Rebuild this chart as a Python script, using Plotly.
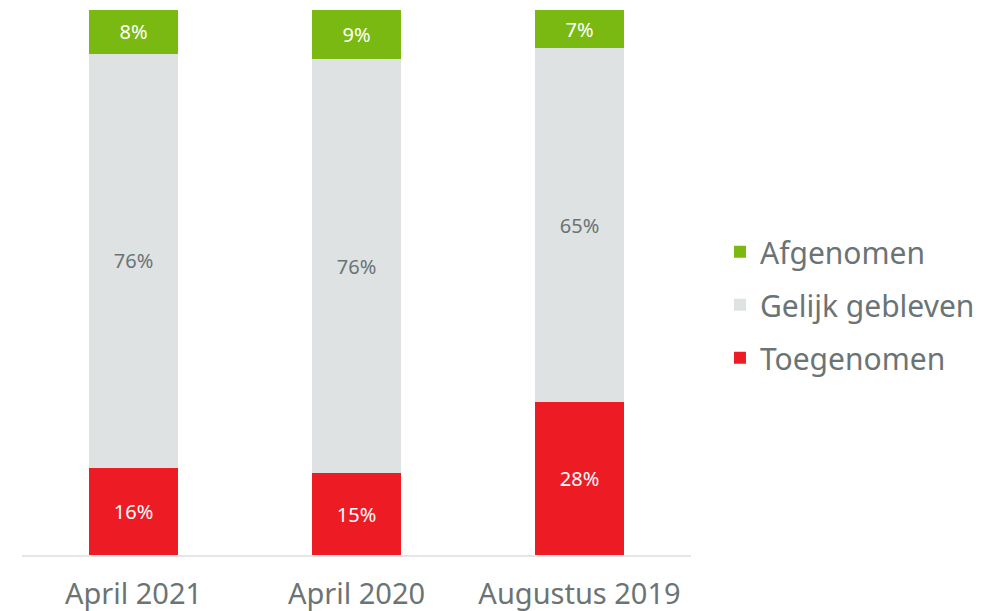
import plotly.graph_objects as go

categories = ["April 2021", "April 2020", "Augustus 2019"]
toegenomen = [16, 15, 28]
gelijk = [76, 76, 65]
afgenomen = [8, 9, 7]

series = [
    ("Toegenomen", toegenomen, "#ED1C24", "#FFFFFF", 3),
    ("Gelijk gebleven", gelijk, "#DEE2E3", "#6B7475", 2),
    ("Afgenomen", afgenomen, "#7AB911", "#FFFFFF", 1),
]

FONT = "Noto Sans"

fig = go.Figure()
for name, vals, col, tcol, rank in series:
    fig.add_trace(go.Bar(
        x=categories, y=vals, name=name,
        marker=dict(color=col, line=dict(width=0)),
        text=[f"{v}%" for v in vals],
        textposition="inside", insidetextanchor="middle",
        textfont=dict(family=FONT, size=20, color=tcol),
        legendgroup=name, legendrank=rank,
    ))

fig.update_layout(
    barmode="stack",
    bargap=0.6,
    width=1004, height=611,
    margin=dict(l=14, r=321, t=2, b=64),
    paper_bgcolor="white", plot_bgcolor="white",
    font=dict(family=FONT, color="#6B7475"),
    uniformtext=dict(minsize=20, mode="show"),
    showlegend=True,
    legend=dict(
        x=1.0433, xanchor="left", y=0.459, yanchor="middle",
        traceorder="grouped", tracegroupgap=11,
        font=dict(family=FONT, size=30, color="#6B7475"),
        bgcolor="rgba(0,0,0,0)",
    ),
    xaxis=dict(
        showgrid=False, zeroline=False, showline=True,
        linecolor="#E3E5E6", linewidth=2,
        tickfont=dict(family=FONT, size=29, color="#6B7475"),
        ticks="", ticklabelstandoff=12, automargin=False,
    ),
    yaxis=dict(
        range=[0, 100], visible=False, showgrid=False, zeroline=False,
    ),
)

fig.write_html("out.html")
